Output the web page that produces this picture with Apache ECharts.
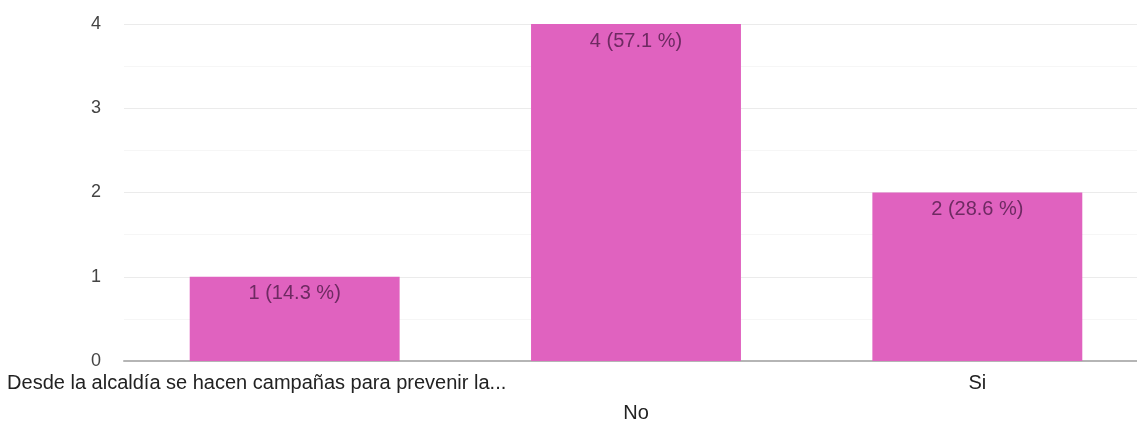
<!DOCTYPE html>
<html>
<head>
<meta charset="utf-8">
<script src="https://cdn.jsdelivr.net/npm/echarts@6/dist/echarts.min.js"></script>
<style>
  html, body { margin: 0; padding: 0; background: #fff; overflow: hidden; }
  /* plot runs a little past the right edge of the window, like the original */
  #chart { width: 1148px; height: 428px; }
</style>
</head>
<body>
<div id="chart"></div>
<script>
const categories = [
    "Desde la alcaldía se hacen campañas para prevenir la...",
    "No",
    "Si",
]
const counts = [1, 4, 2]
const percents = [14.3, 57.1, 28.6]
const yTicks = [0, 1, 2, 3, 4]

const chart = echarts.init(document.getElementById("chart"))

const option = {
    textStyle: { fontFamily: "Liberation Sans, Arial, sans-serif" },
    animation: false,
    grid: { left: 124, right: 0, top: 24, bottom: 65 },
    xAxis: {
        type: "category",
        data: categories,
        axisTick: { show: false },
        axisLine: { lineStyle: { color: "#b5b5b5", width: 2 } },
        axisLabel: {
            interval: 0,
            margin: 7,
            color: "#222",
            fontSize: 20,
            lineHeight: 30,
            verticalAlign: "top",
            // stagger labels like the original: the middle one drops to a second row
            formatter: (value, idx) => {
                if (idx === 0) return "{first|" + value + "}"
                if (idx % 2 === 1) return "\n" + value
                return value
            },
            rich: {
                first: {
                    fontSize: 20,
                    color: "#222",
                    lineHeight: 30,
                    padding: [0, 76, 0, 0],
                },
            },
        },
    },
    yAxis: {
        type: "value",
        min: yTicks[0],
        max: yTicks[yTicks.length - 1],
        interval: 1,
        axisLine: { show: false },
        axisTick: { show: false },
        axisLabel: { color: "#444", fontSize: 18, margin: 23 },
        splitLine: { lineStyle: { color: "#ebebeb" } },
        minorTick: { show: false, splitNumber: 2 },
        minorSplitLine: { show: true, lineStyle: { color: "#f6f6f6" } },
    },
    series: [
        {
            type: "bar",
            data: counts,
            barWidth: "61.5%",
            itemStyle: { color: "#e062bf" },
            label: {
                show: true,
                position: "insideTop",
                distance: 7,
                color: "#6e2a62",
                fontSize: 20,
                formatter: (p) => p.value + " (" + percents[p.dataIndex] + " %)",
            },
        },
    ],
}

chart.setOption(option)
</script>
</body>
</html>
